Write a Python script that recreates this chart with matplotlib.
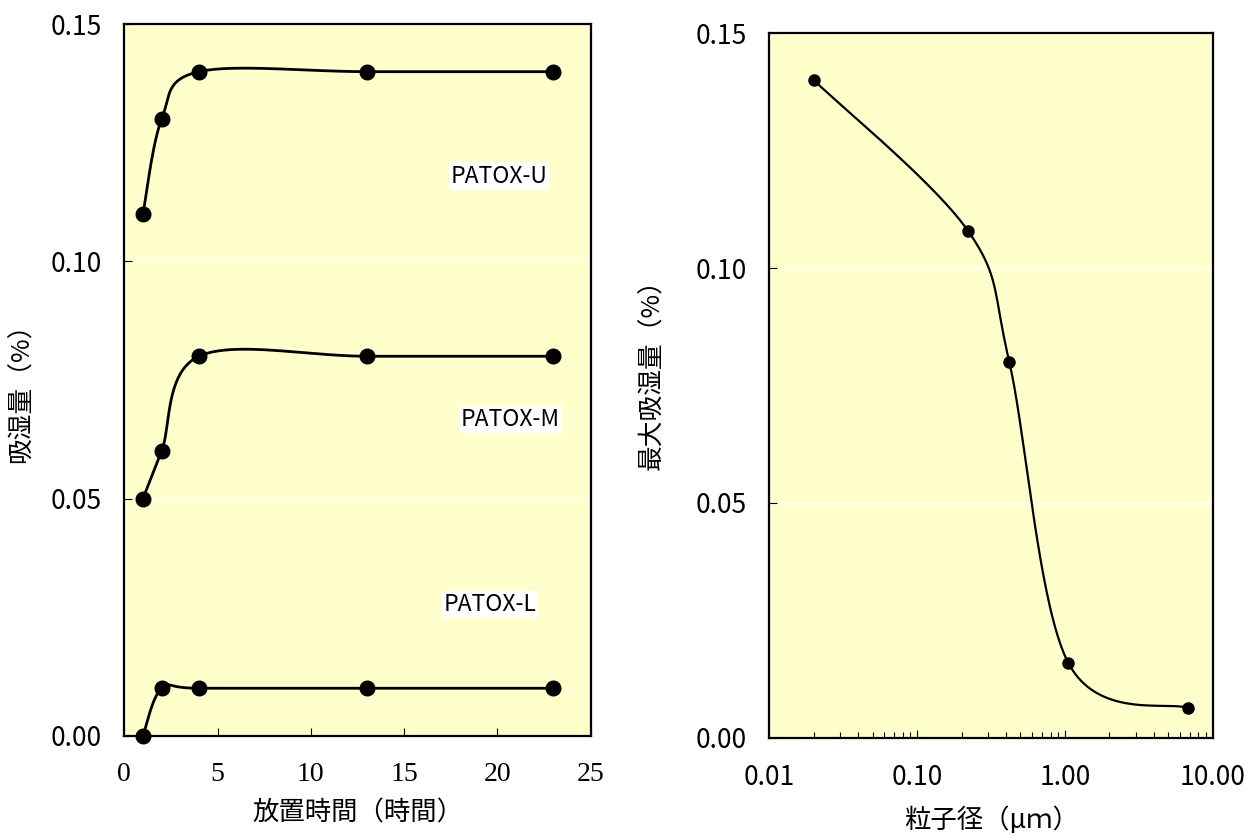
import matplotlib
matplotlib.use('Agg')
import matplotlib.pyplot as plt
import numpy as np
from matplotlib.ticker import FixedLocator, LogLocator, NullFormatter

plt.rcParams['font.family'] = ['Noto Sans CJK JP', 'DejaVu Sans']

# left chart: moisture absorption vs. standing time
HOURS = [1, 2, 4, 13, 23]
PATOX_U = [0.11, 0.13, 0.14, 0.14, 0.14]
PATOX_M = [0.05, 0.06, 0.08, 0.08, 0.08]
PATOX_L = [0.00, 0.01, 0.01, 0.01, 0.01]
SERIES_NAMES = ['PATOX-U', 'PATOX-M', 'PATOX-L']
NAME_POS = [(20.1, 0.118), (20.7, 0.0666), (19.6, 0.0276)]

# right chart: max absorption vs. particle size
SIZE_UM = [0.02, 0.22, 0.42, 1.05, 6.8]
MAX_ABS = [0.14, 0.108, 0.08, 0.016, 0.0063]

Y_TICKS = [0.00, 0.05, 0.10, 0.15]
Y_TICKLABELS = ['0.00', '0.05', '0.10', '0.15']
HOUR_TICKS = [0, 5, 10, 15, 20, 25]
SIZE_TICKS = [0.01, 0.1, 1, 10]
SIZE_TICKLABELS = ['0.01', '0.10', '1.00', '10.00']

YELLOW = '#FFFFCC'


def smooth(ax, x, y, n=40):
    # excel-like smoothed line, built in screen space
    pts = ax.transData.transform(np.column_stack([x, y]))
    out = [pts[0]]
    t = np.linspace(0, 1, n)[1:, None]
    for i in range(len(pts) - 1):
        p0 = pts[max(i - 1, 0)]
        p1 = pts[i]
        p2 = pts[i + 1]
        p3 = pts[min(i + 2, len(pts) - 1)]
        c1 = p1 + (p2 - p0) / 6.0
        c2 = p2 - (p3 - p1) / 6.0
        seg = (1 - t)**3 * p1 + 3 * (1 - t)**2 * t * c1 + 3 * (1 - t) * t**2 * c2 + t**3 * p2
        out.extend(seg)
    out = ax.transData.inverted().transform(np.array(out))
    return out[:, 0], out[:, 1]


def style_axis(ax):
    ax.set_facecolor(YELLOW)
    for s in ax.spines.values():
        s.set_linewidth(1.6)
        s.set_color('black')
    ax.set_ylim(0, 0.15)
    ax.yaxis.set_major_locator(FixedLocator(Y_TICKS))
    ax.set_yticklabels(Y_TICKLABELS)
    ax.grid(axis='y', color='white', linewidth=1.0)
    ax.set_axisbelow(True)
    ax.tick_params(axis='y', direction='in', length=6, width=0.8, labelsize=19, pad=16)
    ax.tick_params(axis='x', direction='in', length=6, width=0.8, pad=19)


fig = plt.figure(figsize=(12.52, 8.36), dpi=100)

ax1 = fig.add_axes([0.0993, 0.1200, 0.3725, 0.8510])
style_axis(ax1)
ax1.set_xlim(0, 25)
ax1.xaxis.set_major_locator(FixedLocator(HOUR_TICKS))
ax1.set_xticklabels([str(v) for v in HOUR_TICKS], family='Liberation Serif', fontsize=20)

for vals in [PATOX_U, PATOX_M, PATOX_L]:
    sx, sy = smooth(ax1, HOURS, vals)
    ax1.plot(sx, sy, color='black', linewidth=2.0, clip_on=False, zorder=3)
    ax1.plot(HOURS, vals, 'o', color='black', markersize=10.5, clip_on=False, zorder=4)

for name, (tx, ty) in zip(SERIES_NAMES, NAME_POS):
    ax1.text(tx, ty, name, fontsize=16.5, ha='center', va='center',
             bbox=dict(facecolor='white', edgecolor='none', pad=1.5))

ax1.set_xlabel('放置時間（時間）', fontsize=19)
ax1.xaxis.label.set_va('center')
ax1.xaxis.set_label_coords(0.5, -0.109)
ax1.set_ylabel('吸湿量（%）', fontsize=18.5)
ax1.yaxis.label.set_va('center')
ax1.yaxis.set_label_coords(-0.22, 0.49)

ax2 = fig.add_axes([0.6145, 0.1176, 0.3542, 0.8426])
style_axis(ax2)
ax2.set_xscale('log')
ax2.set_xlim(0.01, 10)
ax2.xaxis.set_major_locator(FixedLocator(SIZE_TICKS))
ax2.set_xticklabels(SIZE_TICKLABELS, fontsize=19)
ax2.xaxis.set_minor_locator(LogLocator(base=10, subs=np.arange(2, 10)))
ax2.xaxis.set_minor_formatter(NullFormatter())
ax2.tick_params(axis='x', which='minor', direction='in', length=4, width=0.8)

sx, sy = smooth(ax2, SIZE_UM, MAX_ABS)
ax2.plot(sx, sy, color='black', linewidth=1.6, zorder=3)
ax2.plot(SIZE_UM, MAX_ABS, 'o', color='black', markersize=8, zorder=4)

ax2.set_xlabel('粒子径（μｍ）', fontsize=19)
ax2.xaxis.label.set_va('center')
ax2.xaxis.set_label_coords(0.5, -0.117)
ax2.set_ylabel('最大吸湿量（%）', fontsize=18.5)
ax2.yaxis.label.set_va('center')
ax2.yaxis.set_label_coords(-0.265, 0.525)

fig.savefig('out.png', dpi=100, facecolor='white')
